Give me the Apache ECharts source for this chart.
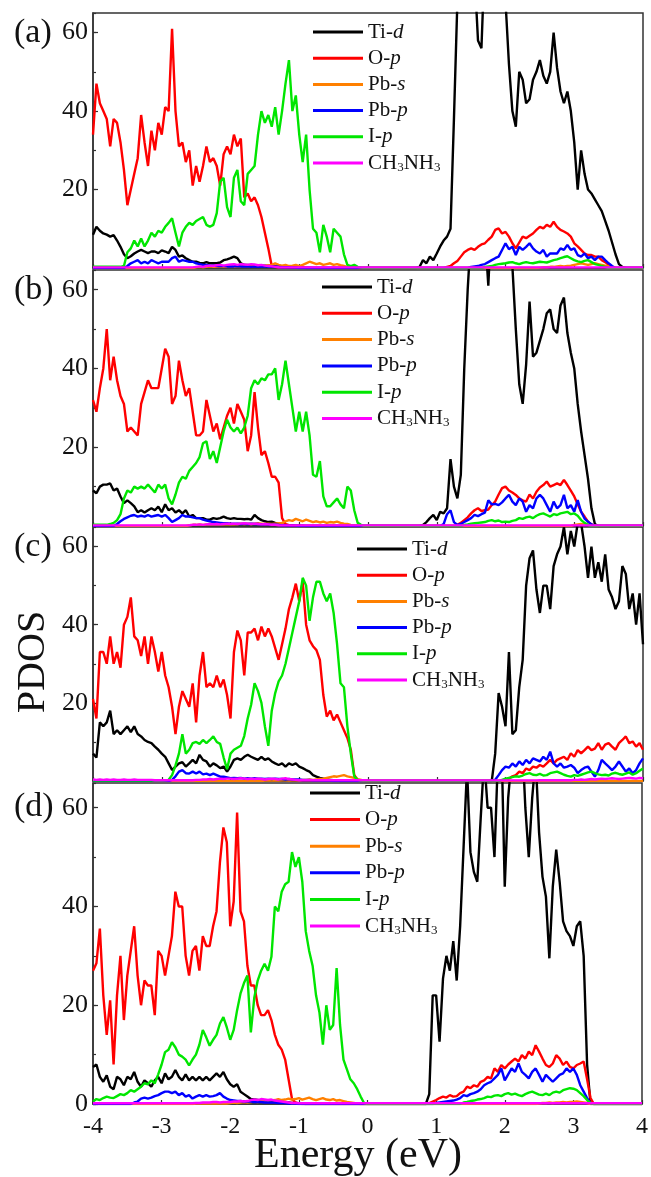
<!DOCTYPE html>
<html>
<head>
<meta charset="utf-8">
<script src="https://cdn.jsdelivr.net/npm/echarts/dist/echarts.min.js"></script>
<style>
html,body{margin:0;padding:0;background:#fff;}
#chart{width:651px;height:1177px;}
</style>
</head>
<body>
<div id="chart"></div>
<script>
// Energy grid (eV), 0.05 eV steps
const ENERGY = [
-4,-3.95,-3.9,-3.85,-3.8,-3.75,-3.7,-3.65,-3.6,-3.55,-3.5,-3.45,-3.4,-3.35,-3.3,-3.25,-3.2,-3.15,-3.1,-3.05,
-3,-2.95,-2.9,-2.85,-2.8,-2.75,-2.7,-2.65,-2.6,-2.55,-2.5,-2.45,-2.4,-2.35,-2.3,-2.25,-2.2,-2.15,-2.1,-2.05,
-2,-1.95,-1.9,-1.85,-1.8,-1.75,-1.7,-1.65,-1.6,-1.55,-1.5,-1.45,-1.4,-1.35,-1.3,-1.25,-1.2,-1.15,-1.1,-1.05,
-1,-0.95,-0.9,-0.85,-0.8,-0.75,-0.7,-0.65,-0.6,-0.55,-0.5,-0.45,-0.4,-0.35,-0.3,-0.25,-0.2,-0.15,-0.1,-0.05,
0,0.05,0.1,0.15,0.2,0.25,0.3,0.35,0.4,0.45,0.5,0.55,0.6,0.65,0.7,0.75,0.8,0.85,0.9,0.95,
1,1.05,1.1,1.15,1.2,1.25,1.3,1.35,1.4,1.45,1.5,1.55,1.6,1.65,1.7,1.75,1.8,1.85,1.9,1.95,
2,2.05,2.1,2.15,2.2,2.25,2.3,2.35,2.4,2.45,2.5,2.55,2.6,2.65,2.7,2.75,2.8,2.85,2.9,2.95,
3,3.05,3.1,3.15,3.2,3.25,3.3,3.35,3.4,3.45,3.5,3.55,3.6,3.65,3.7,3.75,3.8,3.85,3.9,3.95,
4];

const SERIES_NAMES = ['Ti-d','O-p','Pb-s','Pb-p','I-p','CH3NH3'];
const LEGEND_LABELS = ['Ti-{i|d}','O-{i|p}','Pb-{i|s}','Pb-{i|p}','I-{i|p}','CH{s|3}NH{s|3}'];
const SERIES_COLORS = ['#000000','#ff0000','#ff8000','#0000ff','#00e600','#ff00ff'];
const PANEL_LABELS = ['(a)','(b)','(c)','(d)'];

// ---------- panel (a) ----------
const A_TI = [
8.5,10.5,9.5,8.8,8.5,8,8.4,7,5.4,3.5,2.5,3,3.7,4.2,4.6,4.2,3.8,4.2,4.2,3.8,
4.5,4.2,3.8,5.4,4.6,2.9,3.2,2.5,2,1.6,1.6,1.3,1.2,1.5,1.2,1.2,1.2,1.4,2,2.2,
2.5,2.9,2.5,1.2,0.8,0.8,0.7,0.7,0.6,0.6,0.6,0.5,0.5,0.4,0.4,0.3,0.3,0.2,0.2,0.1,
0.1,0.1,0,0,0,0,0,0,0,0,0,0,0,0,0,0,0,0,0,0,
0,0,0,0,0,0,0,0,0,0,0,0,0,0,0,0.3,2,1.2,2.9,2,
3.7,5.5,7,8,10,38,68,85,90,85,80,75,58,56,80,90,95,88,80,72,
68,52,40,36,50,48,42,43,48,50,53,49,47,50,60,51,45,42,45,40,
32,20,30,24,20,19,17.5,16,14.5,12,9.5,6.5,3.5,1,0.3,0,0,0,0,0,
0];
const A_O = [
34,47,42,40,38,31,38,37,32,25,16,20,24,28,39,32,26,35,30,37,
34,41,40,61,40,31,32,27,30,21,26,22,26,31,27,28,26,21,29,31,
29,34,31,33,18,19,17,18,16,13,9,5,0.5,0.3,0.2,0.3,0.2,0.2,0.1,0.1,
0.1,0.1,0.1,0.1,0,0,0,0,0,0,0,0,0,0,0,0,0,0,0,0,
0,0,0,0,0,0,0,0,0,0,0,0,0,0,0,0,0,0,0,0,
0,0,0,0.3,0.5,1.2,1.8,2.9,4,4.6,5,4.6,5.4,6,6.3,7.2,8,9.7,10.1,8.8,
9.2,8,6.3,5,6.5,8,7.6,8.2,8.8,9.7,10.5,10.1,11,10.5,11.8,10.5,9.7,9.3,8.8,8,
6.3,5.5,4.6,3.7,3.3,3.3,2.9,2.9,2,1.5,0.8,0.3,0,0,0,0,0,0,0,0,
0];
const A_PBS = [
0,0,0,0,0,0,0,0,0,0,0,0,0,0,0,0,0,0,0,0,
0,0,0,0,0,0,0,0,0,0,0.2,0.3,0.2,0.3,0.4,0.3,0.3,0.4,0.3,0.3,
0.4,0.3,0.4,0.5,0.4,0.5,0.4,0.6,0.5,0.6,0.5,0.7,0.8,1.2,0.8,0.6,0.8,0.5,0.6,0.8,
0.5,0.8,1.2,1.6,1.3,1,1.2,0.8,1,1.2,0.8,1,0.7,0.5,0.3,0.2,0.1,0,0,0,
0,0,0,0,0,0,0,0,0,0,0,0,0,0,0,0,0,0,0,0,
0,0,0,0,0,0,0,0,0,0,0,0,0,0,0,0,0,0,0,0,
0,0,0,0,0,0,0,0,0,0,0.1,0.2,0.2,0.3,0.3,0.4,0.5,0.4,0.5,0.6,
0.8,1,1.2,1,0.8,1,1.2,1,0.8,0.6,0.4,0.2,0,0,0,0,0,0,0,0,
0];
const A_PBP = [
0,0,0,0,0,0,0,0,0,0,0.5,1.2,1.6,2,1.2,1.6,1.2,2,1.6,1.2,
1.6,1.6,1.6,2.5,2.9,1.6,2,1.8,1.6,1.6,1.2,1,0.8,0.8,0.6,0.6,0.5,0.5,0.5,0.4,
0.4,0.4,0.5,0.4,0.4,0.4,0.3,0.4,0.3,0.4,0.4,0.3,0.3,0.3,0.3,0.2,0.2,0.2,0.1,0.1,
0,0,0,0,0,0,0,0,0,0,0,0,0,0,0,0,0,0,0,0,
0,0,0,0,0,0,0,0,0,0,0,0,0,0,0,0,0,0,0,0,
0,0,0,0,0,0,0,0,0,0,0.3,0.4,0.5,0.8,1,1.5,2,2.5,2.9,4.6,
6.3,4.8,5.4,3.3,5.4,4.6,5.4,6.3,5,4.2,3.7,4.6,2.9,3.7,3.7,3.7,5,4.6,5.9,4.6,
5,3.3,2.9,3.7,2.5,2.9,2,2.9,2.9,2,1.2,0.5,0,0,0,0,0,0,0,0,
0];
const A_IP = [
0.3,0.3,0.3,0.3,0.3,0.3,0.3,0.3,0.3,0.5,4,5,7,5.5,7.5,5.5,7,9,8,9.5,
9,10.5,11.5,12.7,9,5.5,9,10.5,11.5,11,12,12.5,13,11,10.5,11,14,22,23,15.5,
13,23,25,17,16,24,25,26,34,40,37,39,36,41,34,40,47,53,40,44,
34,27,34,20,10,9,4,11,8,4,10,9,8,3.5,0.8,0.5,0.8,0.3,0.1,0,
0,0,0,0,0,0,0,0,0,0,0,0,0,0,0,0,0,0,0,0,
0,0,0,0,0,0,0,0,0,0,0,0,0,0,0.3,0.4,0.5,0.8,1,1.1,
1.2,1.4,1.5,1.2,1,1.3,1.5,1.3,1.2,1.4,1.6,1.5,1.4,1.7,2,2.2,2.5,2.8,3,2.5,
2,1.7,1.5,1.8,2,1.5,1,0.8,0.5,0.3,0,0,0,0,0,0,0,0,0,0,
0];
const A_CH = [
.15,.15,.15,.15,.15,.15,.15,.15,.15,.15,.15,.15,.15,.15,.15,.15,.15,.15,.15,.15,
.15,.15,.15,.15,.15,.15,.15,.15,.15,.15,0.3,0.4,0.3,0.5,0.6,0.5,0.7,0.8,0.6,0.8,
0.9,1,0.8,1,0.9,0.8,1,0.9,0.7,0.8,0.6,0.5,0.4,0.3,0.2,.15,.15,.15,.15,.15,
.15,.15,.15,.15,.15,.15,.15,.15,.15,.15,.15,.15,.15,.15,.15,.15,.15,.15,.15,.15,
.15,.15,.15,.15,.15,.15,.15,.15,.15,.15,.15,.15,.15,.15,.15,.15,.15,.15,.15,.15,
.15,.15,.15,.15,.15,.15,.15,.15,.15,.15,.15,.15,.15,.15,.15,.15,.15,.15,.15,.15,
.15,.15,.15,.15,.15,.15,.15,.15,.15,.15,.15,.15,.15,.15,.15,.15,.15,.15,.15,.15,
.15,.15,.15,.15,.15,.15,.15,.15,.15,.15,.15,.15,.15,.15,.15,.15,.15,.15,.15,.15,
.15];

// ---------- panel (b) ----------
const B_TI = [
9,8.3,10,10.5,10.5,10.8,9,9.5,7.5,5.8,6.5,5.8,5,3.5,4,3.4,4,4.5,4,4.9,
3.5,5.5,4,4.5,3.4,4,3.2,4,2.4,2.8,2,2,2,1.6,1.6,2,1.8,2,2.4,2,
1.8,2,1.8,1.8,1.7,1.8,1.6,2.8,2,1.5,1.2,1,1.1,0.8,0.6,0.4,0.3,0.2,0.2,0.1,
0.1,0.1,0,0,0,0,0,0,0,0,0,0,0,0,0,0,0,0,0,0,
0,0,0,0,0,0,0,0,0,0,0,0,0,0,0,0,0.3,1,2,2.8,
1.5,3.6,3.2,4.5,17,10,7,13,40,60,75,85,90,70,75,61,80,90,85,80,
75,70,66,50,36,31,41,57,43,44,47,50,54,55,50,49,56,58,49,44,
40,31,24,18,12,4.5,0.5,0,0,0,0,0,0,0,0,0,0,0,0,0,
0];
const B_O = [
32,29,35,40,50,37,43,37,33,31,24,25,24,23,31,34,37,35,35,35,
40,45,43,31,33,42,37,33,35,29,23,23,24,32,28,24,26,22,25,28,
30,26,31,29,27,19,23,34,25,18,19,16,12.5,12.5,11,2,0.5,0.2,0.1,0.1,
0,0,0,0,0,0,0,0,0,0,0,0,0,0,0,0,0,0,0,0,
0,0,0,0,0,0,0,0,0,0,0,0,0,0,0,0,0,0,0,0,
0,0,0,0,0,0,0.3,0.8,1.5,2.2,3.2,4,4.5,3.8,4,4.2,5.3,6.2,8,9.6,
10,9,8.5,7.9,7,6.5,6.2,8,7,8.7,9.8,10.4,11.3,10,10.4,10.8,10.4,11.7,10.4,9,
7.5,5.5,3.6,2.4,1.1,0.4,0,0,0,0,0,0,0,0,0,0,0,0,0,0,
0];
const B_PBS = [
0,0,0,0,0,0,0,0,0,0,0,0,0,0,0,0,0,0,0,0,
0,0,0,0,0,0,0,0,0.2,0.3,0.3,0.4,0.3,0.4,0.5,0.4,0.5,0.4,0.5,0.4,
0.5,0.4,0.5,0.6,0.5,0.6,0.5,0.6,0.7,0.6,0.5,0.6,0.5,0.6,0.7,0.8,1.2,1.5,1.3,1.8,
1.5,1.2,1.6,1.3,1,1.2,0.9,1.1,0.8,1,0.9,1.1,0.8,0.6,0.5,0.3,0.2,0.1,0,0,
0,0,0,0,0,0,0,0,0,0,0,0,0,0,0,0,0,0,0,0,
0,0,0,0,0,0,0,0,0,0,0,0,0,0,0,0,0,0,0,0,
0,0,0,0,0,0,0,0,0,0,0,0,0,0,0,0,0,0,0,0,
0.3,0.4,0.5,0.4,0.3,0.2,0,0,0,0,0,0,0,0,0,0,0,0,0,0,
0];
const B_PBP = [
0,0,0,0,0,0,0,0.5,1.2,1.8,2.2,2.6,2.8,2.4,2.6,2.4,2.8,2.4,2.6,2.8,
2.4,2.8,2,1,1.5,2,2.8,2.4,2.4,2.2,2,2,1.6,1.4,1.2,1,0.9,0.8,0.7,0.7,
0.6,0.6,0.6,0.5,0.6,0.5,0.6,0.5,0.5,0.4,0.4,0.4,0.3,0.3,0.3,0.2,0.2,0.1,0.1,0.1,
0,0,0,0,0,0,0,0,0,0,0,0,0,0,0,0,0,0,0,0,
0,0,0,0,0,0,0,0,0,0,0,0,0,0,0,0,0,0,0,0,
0,0,0.5,3,4,1,0.3,0.5,1,1.5,2,2.8,2.5,3,3.4,6.5,5.5,5.6,5.3,6,
7,7.9,6.2,5.3,7,6.2,3.6,5.3,4.5,7,7.9,7,5.3,3.6,6.2,4.5,5.3,7.9,4.5,5.3,
3.6,6.6,3.6,1.9,1.1,0.4,0,0,0,0,0,0,0,0,0,0,0,0,0,0,
0];
const B_IP = [
0.3,0.3,0.3,0.3,0.3,0.5,0.8,1.5,3,7,9,8.5,10,9.5,10,9.5,10.5,9.5,8.5,10.5,
9.5,10.5,7,5.5,8,11,12.5,12,14,15,16,17.5,21,21.5,17,19,16,20,24,27,
25,24,25,23.5,25,28,35,37,36,37.5,37,38.5,38.5,40,32,36,42,36,30,24,
29,24,29,23,13,12.5,16.5,7.5,5,5,6,7,5.5,4.5,10,9,4,0.8,0.3,0,
0,0,0,0,0,0,0,0,0,0,0,0,0,0,0,0,0,0,0,0,
0,0,0,0,0,0,0,0,0.3,0.4,0.6,0.7,0.8,0.9,1,1.3,1.5,1.2,1.4,1,
1.1,1,1.3,1.5,2,1.8,2.2,2.4,2,2.6,3,3.2,2.8,2.4,3,2.8,3.2,3.4,3.6,3,
3.2,2.6,1.5,0.8,0.3,0,0,0,0,0,0,0,0,0,0,0,0,0,0,0,
0];
const B_CH = [
.15,.15,.15,.15,.15,.15,.15,.15,.15,.15,.15,.15,.15,.15,.15,.15,.15,.15,.15,.15,
.15,.15,.15,.15,.15,.15,.15,.15,0.2,0.3,0.3,0.4,0.3,0.4,0.5,0.4,0.5,0.4,0.5,0.6,
0.5,0.6,0.5,0.6,0.7,0.6,0.5,0.6,0.5,0.4,0.5,0.4,0.3,0.3,0.2,.15,.15,.15,.15,.15,
.15,.15,.15,.15,.15,.15,.15,.15,.15,.15,.15,.15,.15,.15,.15,.15,.15,.15,.15,.15,
.15,.15,.15,.15,.15,.15,.15,.15,.15,.15,.15,.15,.15,.15,.15,.15,.15,.15,.15,.15,
.15,.15,.15,.15,.15,.15,.15,.15,.15,.15,.15,.15,.15,.15,.15,.15,.15,.15,.15,.15,
.15,.15,.15,.15,.15,.15,.15,.15,.15,.15,.15,.15,.15,.15,.15,.15,.15,.15,.15,.15,
.15,.15,.15,.15,.15,.15,.15,.15,.15,.15,.15,.15,.15,.15,.15,.15,.15,.15,.15,.15,
.15];

// ---------- panel (c) ----------
const C_TI = [
7,6,15,14,15,18,12,13,12,13,14,12.5,14,12,11.4,10.5,10,9.7,8.8,8,
7,6.2,4.5,2.8,3.7,4.5,4.8,3.7,4.5,5.4,4.5,6.7,5.4,5,3.7,4.5,4,3.3,3.7,2.4,
3.7,5.4,5.8,5.4,6.2,6.7,6.2,5.8,5.4,6.2,5.4,5.8,5,4.5,4.1,4.5,3.7,4.5,4.1,4.5,
3.7,3.3,2.8,2.4,1.5,1.1,0.8,0.6,0.4,0.3,0.2,0.1,0,0,0,0,0,0,0,0,
0,0,0,0,0,0,0,0,0,0,0,0,0,0,0,0,0,0,0,0,
0,0,0,0,0,0,0,0,0,0,0,0,0,0,0,0,0,7,22.5,19,
14,33,12,13,24,31,50,57,59,49,43,50,50,44,55,58,60,65,58,64,
60,66,66,60,52,60,52,56,51,58,49,47,44,46,55,53,44,48,40,48,
35];
const C_O = [
21,16,33,33,30,37,30,33,29,40,42,47,37,36,32,37,30,37,33,28,
33,27,24,19,12,19,23,21,19,25,15,27,33,24,25,24,27,24,26,22,
16,33,38.5,36,27,38,38,39,36,39.5,37,39,37,34,31,35,39,44,47,50.5,
46,51,40,36,34.5,33.5,31,22,16.5,18,15.5,17,15,13,11,8,1.5,0.3,0.1,0,
0,0,0,0,0,0,0,0,0,0,0,0,0,0,0,0,0,0,0,0,
0,0,0,0,0,0,0,0,0,0,0,0,0,0,0,0,0,0,0,0,
0.3,0.6,1.2,1.5,2.4,2,3.2,2.8,3.7,3.4,4.1,3.7,4.5,5.4,4.5,5.4,5.8,6.2,5.4,7.1,
6.2,7.9,7.1,7.9,8.8,7.9,8.3,9.7,8,9.3,9.7,8.8,8,9.7,10.5,11.4,9.7,10.1,8.8,9.7,
8];
const C_PBS = [
0,0,0,0,0,0,0,0,0,0,0,0,0,0,0,0,0,0,0,0,
0,0,0,0,0,0,0,0,0,0,0,0,0,0,0,0,0,0,0,0,
0,0,0,0,0,0,0,0,0,0,0.1,0.1,0.1,0.2,0.1,0.2,0.2,0.1,0.2,0.2,
0.2,0.3,0.3,0.4,0.3,0.4,0.5,0.6,0.8,1,1.2,1.1,1.3,1.5,1.2,1,0.8,0.5,0.3,0.1,
0,0,0,0,0,0,0,0,0,0,0,0,0,0,0,0,0,0,0,0,
0,0,0,0,0,0,0,0,0,0,0,0,0,0,0,0,0,0,0,0,
0,0,0,0,0,0,0,0,0,0,0,0,0,0,0,0,0,0,0,0,
0,0,0,0,0,0,0,0,0,0,0,0,0,0,0,0,0,0,0,0,
0];
const C_PBP = [
0,0,0,0,0,0,0,0,0,0,0,0,0,0,0,0,0,0,0,0,
0,0,0,0.3,1.2,2.4,2.8,2,1.9,2.4,1.9,2.4,1.7,1.9,1.5,1.9,1.5,1.1,1.1,0.9,
0.7,0.8,0.7,0.8,0.6,0.7,0.6,0.7,0.6,0.6,0.5,0.6,0.5,0.6,0.5,0.5,0.4,0.5,0.4,0.4,
0.4,0.3,0.3,0.3,0.2,0.2,0.2,0.1,0.1,0.1,0,0,0,0,0,0,0,0,0,0,
0,0,0,0,0,0,0,0,0,0,0,0,0,0,0,0,0,0,0,0,
0,0,0,0,0,0,0,0,0,0,0,0,0,0,0,0,0,0.3,1.5,2.8,
3.7,3.4,4.5,3.7,5,4.1,5.4,4.5,5.8,5.4,5,6.2,5.4,7.5,4.5,3.7,4.5,3.4,3.7,4.1,
3.4,2,2.8,3.4,3.7,2.4,1.1,2.8,5.4,4.5,3.7,2.8,3.7,5,3.7,2.4,3.2,2,2.8,4.5,
5.8];
const C_IP = [
0.1,0.1,0.1,0.1,0.1,0.1,0.1,0.1,0.1,0.1,0.1,0.1,0.1,0.1,0.1,0.1,0.1,0.1,0.1,0.1,
0.1,0.2,0.3,1.5,4,7,12,7,8,9.7,10,9.5,10.5,9.7,10.5,11.4,10,9.5,6,3,
7,8,8.5,9,11.5,16,19.5,25,23,20,14,9,18,22.5,25.5,27,30,34,38,42,
46,52,50,41,47,51,51,48,46,48,43,35,25,24,14,7,1.2,0.3,0.1,0,
0,0,0,0,0,0,0,0,0,0,0,0,0,0,0,0,0,0,0,0,
0,0,0,0,0,0,0,0,0,0,0,0,0,0,0,0,0,0,0,0.3,
0.6,0.8,1,1.2,1.1,1.4,1.8,2,1.6,1.5,1.8,1.4,1.5,2,2.2,2.4,2,1.6,1.3,1.1,
1.5,1.3,1.6,1.9,2.2,2.4,2,1.7,1.5,1.6,1.4,1.9,2.1,1.8,1.6,1.9,2.2,1.6,2,2.6,
3.2];
const C_CH = [
0.4,0.3,0.4,0.3,0.4,0.3,0.4,0.3,0.3,0.4,0.3,0.3,0.4,0.3,0.3,0.3,0.3,0.3,0.2,0.2,
0.2,0.2,0.2,0.2,0.2,0.2,0.2,0.2,0.2,0.2,0.3,0.3,0.4,0.4,0.5,0.4,0.5,0.6,0.5,0.6,
0.6,0.5,0.6,0.7,0.6,0.5,0.6,0.5,0.6,0.5,0.4,0.5,0.6,0.5,0.4,0.6,0.7,0.5,0.4,0.3,
0.2,0.2,0.2,0.2,0.2,0.2,0.2,0.2,0.2,0.2,0.2,0.2,0.2,0.2,0.2,0.2,0.2,0.2,0.2,0.2,
.15,.15,.15,.15,.15,.15,.15,.15,.15,.15,.15,.15,.15,.15,.15,.15,.15,.15,.15,.15,
.15,.15,.15,.15,.15,.15,.15,.15,.15,.15,.15,.15,.15,.15,.15,.15,.15,.15,.15,.15,
.15,.15,.15,.15,.15,.15,.15,.15,.15,.15,0.2,0.2,0.2,0.2,0.2,0.2,0.2,0.2,0.2,0.2,
0.3,0.3,0.4,0.3,0.4,0.5,0.4,0.5,0.6,0.5,0.6,0.7,0.6,0.5,0.6,0.7,0.8,0.7,0.6,0.8,
0.7];

// ---------- panel (d) ----------
const D_TI = [
7.5,8,5.5,4.5,5.8,3.5,3,5.5,5,3.8,5.5,5,6.5,4.5,3.5,4.8,4.2,3.5,4.8,5.5,
4.2,6.2,5,5.5,6.9,5.5,4.8,6,4.8,5.5,4.8,5.5,4.8,5.5,4.8,5.5,6.2,5.5,6.5,5,
4,3.5,4,2.5,2,1.5,1,0.9,0.8,0.7,0.6,0.6,0.5,0.5,0.4,0.4,0.3,0.3,0.2,0.2,
0.1,0.1,0,0,0,0,0,0,0,0,0,0,0,0,0,0,0,0,0,0,
0,0,0,0,0,0,0,0,0,0,0,0,0,0,0,0,0,0,2,22,
22,12.6,25.4,30,27,33,25,36,52,68,51,47,45,58,70,60,60,50,70,75,
44,62,70,80,82,75,60,50,62,70,55,46,42,29.5,44,51.5,45,37,35,34,
32,36,37,30,8,0,0,0,0,0,0,0,0,0,0,0,0,0,0,0,
0];
const D_O = [
27,28.5,35.5,22,14,21,8,22,30,17,26,31,36,26,20,25,24,24,18,31,
30,26,30,34,43,40,40,30,26,31,32,27,34,32,32,36,39,49,56,53,
36,41,59,39,37,28,24,24,20,18,18,19,17,14,12,11,9,5,1,0.3,
0.1,0,0,0,0,0,0,0,0,0,0,0,0,0,0,0,0,0,0,0,
0,0,0,0,0,0,0,0,0,0,0,0,0,0,0,0,0,0,0.2,0.5,
0.8,1.2,1.5,1.3,1.8,1.5,1.6,2.2,2.5,3.5,3.2,3.8,3.5,4.5,4.8,5.5,5.2,7.2,6.5,7.9,
7.2,8,8.6,9.2,8.6,9.9,9.2,10.6,9.9,11.9,10.6,9.2,7.9,7.5,8.2,9.9,9.2,7.9,8.6,7.5,
7.2,7.9,8.2,8.6,5,1.2,0,0,0,0,0,0,0,0,0,0,0,0,0,0,
0];
const D_PBS = [
0,0,0,0,0,0,0,0,0,0,0,0,0,0,0,0,0,0,0,0,
0,0,0,0,0,0,0,0,0,0,0.1,0.1,0.1,0.1,0.1,0.1,0.1,0.1,0.1,0.1,
0.2,0.3,0.2,0.3,0.4,0.3,0.4,0.5,0.4,0.6,0.5,0.6,0.7,0.8,1,0.8,0.9,1.1,0.9,1,
1.2,0.9,1.1,1.3,1,0.8,1,1.2,0.9,0.8,1,0.7,0.8,0.6,0.4,0.3,0.2,0.1,0,0,
0,0,0,0,0,0,0,0,0,0,0,0,0,0,0,0,0,0,0,0,
0,0,0,0,0,0,0,0,0,0,0,0,0,0,0,0,0,0,0,0,
0,0,0,0,0,0,0,0,0,0,0.1,0.2,0.2,0.3,0.2,0.3,0.3,0.4,0.3,0.4,
0.4,0.5,0.4,0.3,0.2,0,0,0,0,0,0,0,0,0,0,0,0,0,0,0,
0];
const D_PBP = [
0,0,0,0,0,0,0,0,0,0,0,0,0.3,0.5,1.1,1.3,1.1,1.3,1.6,1.8,
2.2,2.5,2.5,2.2,2.5,1.8,2.2,1.5,1.8,1.1,1.5,1.8,1.5,1.8,1.5,1.6,1.8,2.2,1.5,1.1,
0.8,0.7,0.6,0.6,0.5,0.5,0.5,0.4,0.4,0.4,0.3,0.3,0.3,0.3,0.2,0.2,0.2,0.1,0.1,0.1,
0,0,0,0,0,0,0,0,0,0,0,0,0,0,0,0,0,0,0,0,
0,0,0,0,0,0,0,0,0,0,0,0,0,0,0,0,0,0,0,0,
0.2,0.3,0.4,0.5,0.6,0.7,0.9,1.2,1.8,1.6,2,2.2,2.5,3,3.8,4.2,4.5,5.2,5.9,7.2,
4.8,6,7.2,6.5,8.2,6.5,5.9,5.2,6.5,7.2,5.9,4.5,5.9,5.2,4.5,5.2,5.9,6.2,7.2,6.5,
7.2,5.9,3.8,2.5,1.2,0.2,0,0,0,0,0,0,0,0,0,0,0,0,0,0,
0];
const D_IP = [
0.5,1,0.8,1.2,1.5,1.3,1.2,1.6,2,1.8,2.2,2.8,2.5,3,3.5,4.2,4,4.8,4.2,6,
8,10.5,11,12.5,11.5,10,9.6,9,7.8,9,10,12,15,13.5,11.8,13,14,16.3,17.6,15.5,
13,15,19,22.4,24.5,26,14.5,21.5,25,27,28.4,27,29.8,40,39,43,44.5,45,51,48,
50,45,35,31,28,22,18.5,12,20,15,16,27.5,16,9,7,5,4.2,3,1.5,0.2,
0,0,0,0,0,0,0,0,0,0,0,0,0,0,0,0,0,0,0,0,
0,0,0,0,0,0,0,0,0.3,0.4,0.6,0.7,0.9,1,1.2,1.5,1.4,1.7,1.8,1.6,
2,2.2,1.9,2.1,1.8,1.6,2,2.3,2.5,2.2,1.9,1.8,2.1,1.8,2.3,2.5,2.3,2.8,3,3.2,
3.1,2.8,2.2,1.6,0.8,0.2,0,0,0,0,0,0,0,0,0,0,0,0,0,0,
0];
const D_CH = [
.15,.15,.15,.15,.15,.15,.15,.15,.15,.15,.15,.15,.15,.15,.15,.15,.15,.15,.15,.15,
.15,.15,.15,.15,.15,.15,.15,.15,.15,.15,0.2,0.2,0.3,0.3,0.3,0.4,0.4,0.3,0.4,0.4,
0.4,0.5,0.5,0.6,0.5,0.6,0.8,0.9,0.8,1,0.9,0.8,0.9,0.7,0.6,0.5,0.4,0.3,0.2,0.2,
.15,.15,.15,.15,.15,.15,.15,.15,.15,.15,.15,.15,.15,.15,.15,.15,.15,.15,.15,.15,
.15,.15,.15,.15,.15,.15,.15,.15,.15,.15,.15,.15,.15,.15,.15,.15,.15,.15,.15,.15,
.15,.15,.15,.15,.15,.15,.15,.15,.15,.15,.15,.15,.15,.15,.15,.15,.15,.15,.15,.15,
.15,.15,.15,.15,.15,.15,.15,.15,.15,.15,.15,.15,.15,.15,.15,.15,.15,.15,.15,.15,
.15,.15,.15,.15,.15,.15,.15,.15,.15,.15,.15,.15,.15,.15,.15,.15,.15,.15,.15,.15,
.15];

const PANELS = [
  [A_TI, A_O, A_PBS, A_PBP, A_IP, A_CH],
  [B_TI, B_O, B_PBS, B_PBP, B_IP, B_CH],
  [C_TI, C_O, C_PBS, C_PBP, C_IP, C_CH],
  [D_TI, D_O, D_PBS, D_PBP, D_IP, D_CH]
];
PANELS.forEach((p, i) => p.forEach((a, j) => {
  if (a.length !== ENERGY.length) console.error('length mismatch panel ' + i + ' series ' + j + ': ' + a.length);
}));

// ----- layout -----
const FONT = '"Liberation Serif", "Times New Roman", serif';
const GRID_BOXES = [
  {top: 13, height: 255},
  {top: 270, height: 256},
  {top: 527, height: 254},
  {top: 783, height: 321}
];
const LEGEND_POS = [
  {left: 313, top: 21, gap: 4.2},
  {left: 322, top: 276, gap: 4.3},
  {left: 357, top: 538, gap: 4.2},
  {left: 310, top: 782, gap: 4.6}
];
const AXIS_COLOR = '#333';

const grids = GRID_BOXES.map(g => ({
  left: 93, width: 550, top: g.top, height: g.height,
  show: true, borderColor: AXIS_COLOR, borderWidth: 1.5, backgroundColor: 'transparent'
}));

const xAxes = GRID_BOXES.map((g, i) => ({
  type: 'value', gridIndex: i, min: -4, max: 4, interval: 1,
  axisLine: {show: true, onZero: false, lineStyle: {color: AXIS_COLOR, width: 1.5}},
  axisTick: {show: true, inside: true, length: 4, lineStyle: {color: AXIS_COLOR, width: 1.2}},
  axisLabel: {show: i === 3, fontFamily: FONT, fontSize: 24, color: '#111', margin: 11},
  splitLine: {show: false}
}));

const yAxes = [];
GRID_BOXES.forEach((g, i) => {
  yAxes.push({
    type: 'value', gridIndex: i, min: 0, max: 65, interval: 20, position: 'left',
    axisLine: {show: true, onZero: false, lineStyle: {color: AXIS_COLOR, width: 1.5}},
    axisTick: {show: true, inside: true, length: 5, lineStyle: {color: AXIS_COLOR, width: 1.2}},
    axisLabel: {fontFamily: FONT, fontSize: 26, color: '#111', margin: 5,
      showMinLabel: i === 3, showMaxLabel: false},
    splitLine: {show: false}
  });
  yAxes.push({
    type: 'value', gridIndex: i, min: 0, max: 65, interval: 10, position: 'left',
    axisLine: {show: false, onZero: false},
    axisTick: {show: true, inside: true, length: 3, lineStyle: {color: AXIS_COLOR, width: 1.2}},
    axisLabel: {show: false},
    splitLine: {show: false}
  });
});

const series = [];
PANELS.forEach((panel, i) => {
  panel.forEach((vals, j) => {
    series.push({
      type: 'line', name: SERIES_NAMES[j],
      xAxisIndex: i, yAxisIndex: 2 * i,
      data: ENERGY.map((e, k) => [e, vals[k]]),
      symbol: 'none', showSymbol: false, clip: true,
      lineStyle: {color: SERIES_COLORS[j], width: 2.4},
      itemStyle: {color: SERIES_COLORS[j]},
      z: 2 + j
    });
  });
});

const legends = LEGEND_POS.map(p => ({
  orient: 'vertical', left: p.left, top: p.top, padding: 0, itemGap: p.gap,
  icon: 'rect', itemWidth: 50, itemHeight: 3, selectedMode: false,
  data: SERIES_NAMES,
  formatter: name => LEGEND_LABELS[SERIES_NAMES.indexOf(name)],
  textStyle: {
    fontFamily: FONT, fontSize: 21, color: '#111', lineHeight: 22,
    rich: {
      i: {fontFamily: FONT, fontSize: 21, fontStyle: 'italic', color: '#111', lineHeight: 22},
      s: {fontFamily: FONT, fontSize: 13, color: '#111', lineHeight: 13, verticalAlign: 'bottom'}
    }
  }
}));

const LABEL_Y = [33, 290, 547, 807];
const graphics = PANEL_LABELS.map((t, i) => ({
  type: 'text', x: 14, y: LABEL_Y[i],
  style: {text: t, font: '34px ' + FONT, fill: '#111', verticalAlign: 'middle', align: 'left'}
}));
graphics.push({
  type: 'text', x: 33, y: 662, rotation: Math.PI / 2,
  style: {text: 'PDOS', font: '40px ' + FONT, fill: '#111', align: 'center', verticalAlign: 'middle'}
});
graphics.push({
  type: 'text', x: 358, y: 1156,
  style: {text: 'Energy (eV)', font: '42px ' + FONT, fill: '#111', align: 'center', verticalAlign: 'middle'}
});

const chart = echarts.init(document.getElementById('chart'), null, {renderer: 'canvas'});
chart.setOption({
  animation: false,
  backgroundColor: '#fff',
  grid: grids,
  xAxis: xAxes,
  yAxis: yAxes,
  legend: legends,
  series: series,
  graphic: graphics
});
</script>
</body>
</html>
